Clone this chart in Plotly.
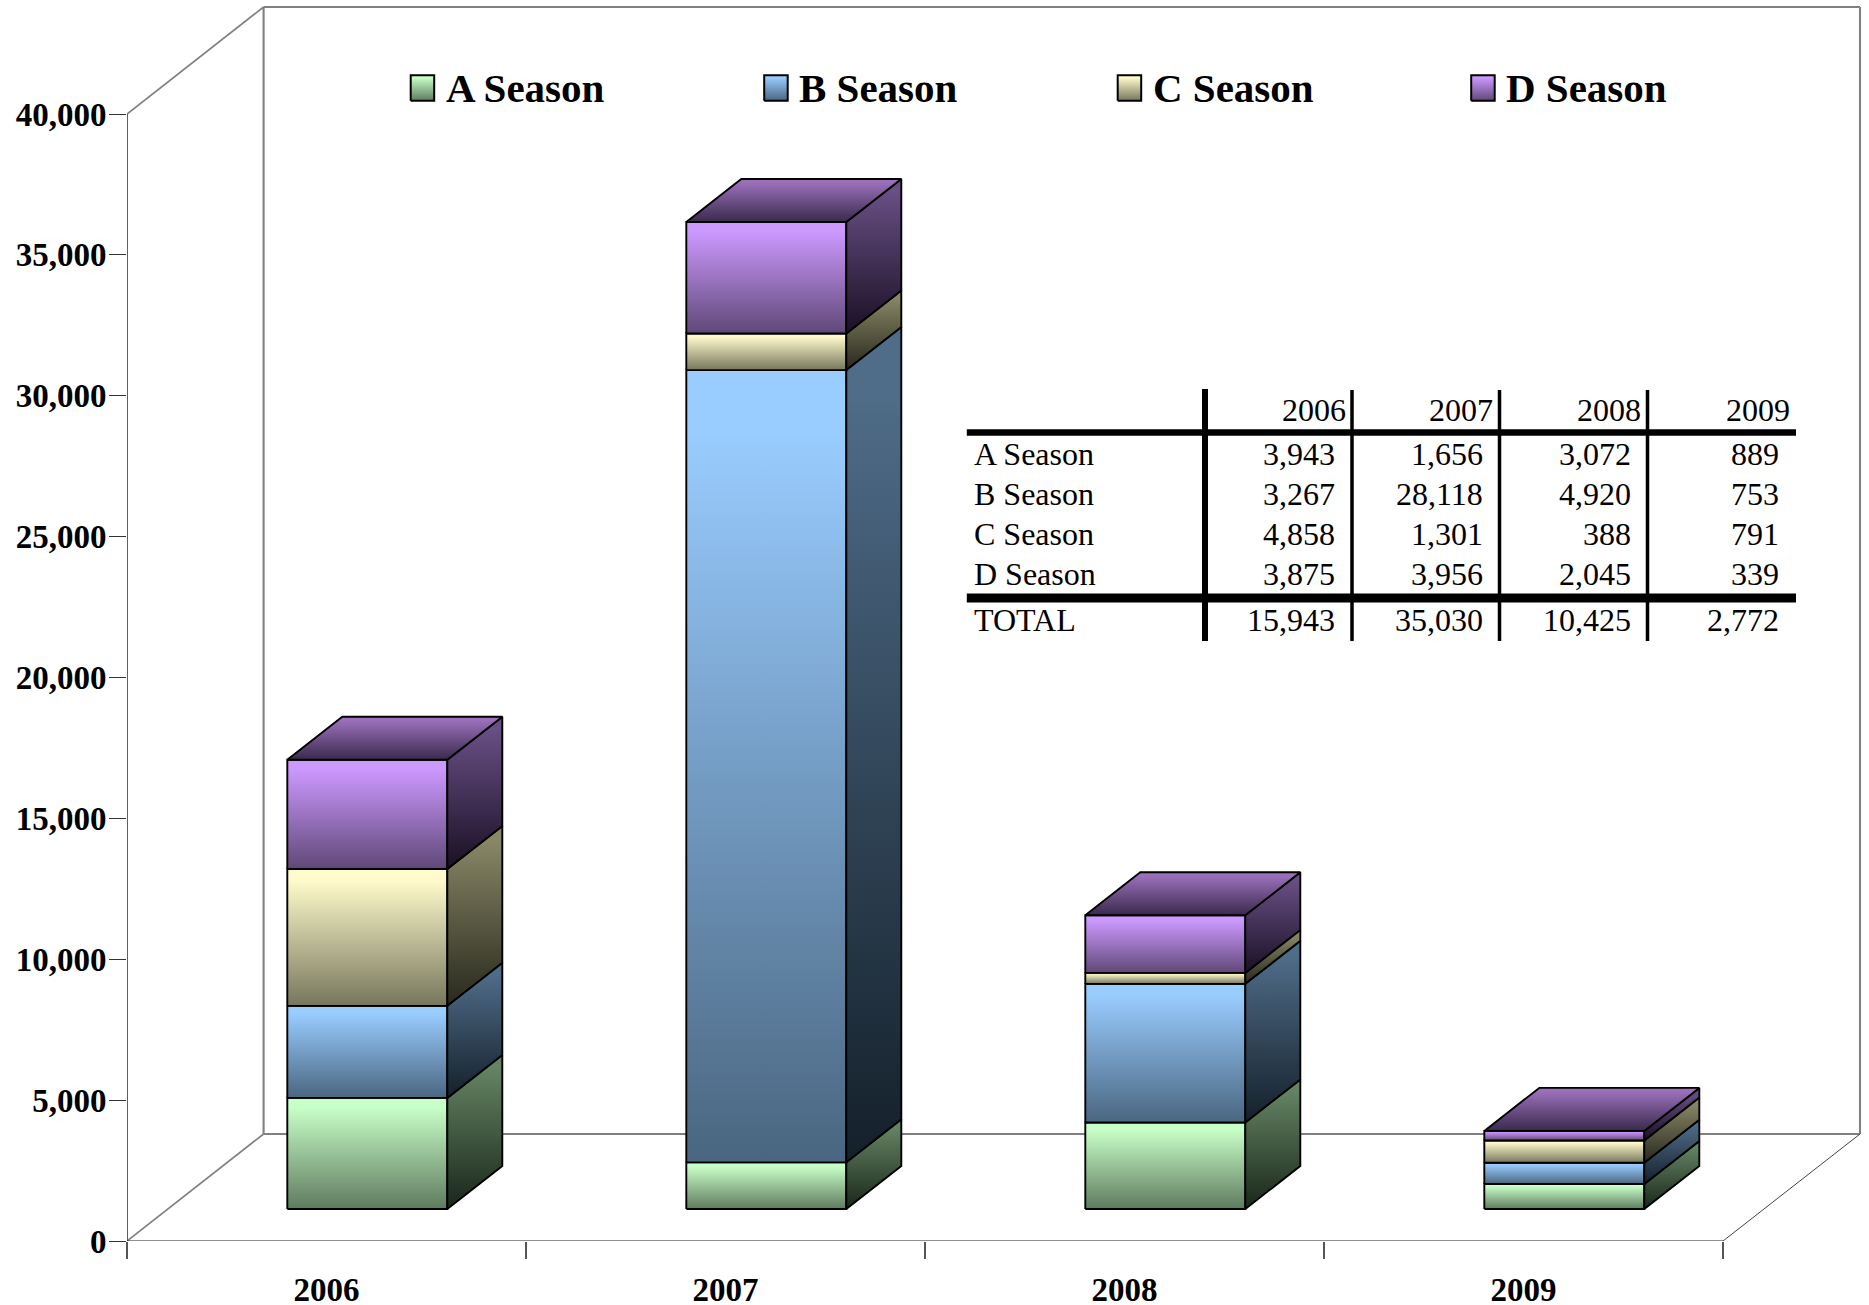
import plotly.graph_objects as go

# ---------- data ----------
years = ["2006", "2007", "2008", "2009"]
a_season = [3943, 1656, 3072, 889]
b_season = [3267, 28118, 4920, 753]
c_season = [4858, 1301, 388, 791]
d_season = [3875, 3956, 2045, 339]
totals = [15943, 35030, 10425, 2772]
series_names = ["A Season", "B Season", "C Season", "D Season"]
y_ticks = [0, 5000, 10000, 15000, 20000, 25000, 30000, 35000, 40000]

# ---------- geometry ----------
W, H = 1869, 1305
L, B = 127, 64
CAT = 399.0
PXU = 1127 / 40000
FONT = "Liberation Serif"


def dx(px):
    return px / CAT


def dy(px):
    return px / PXU


def X(px):
    return (px - L) / CAT


def Y(py):
    return ((H - B) - py) / PXU


def PX(px):
    return (px - L) / (W - L)


def PY(py):
    return ((H - B) - py) / (H - B)


DEPTH_X, DEPTH_Y = dx(55), dy(43)
BASE = dy(32)
BAR_OFF, BAR_W = dx(160.3), dx(160)

styles = {
    "A Season": dict(front=("#C8FFC8", "#5F7A5F"), side=("#648464", "#1A261A")),
    "B Season": dict(front=("#99CCFF", "#4A6680"), side=("#4F6C88", "#14202A")),
    "C Season": dict(front=("#FFFBCC", "#76765C"), side=("#888766", "#28281E")),
    "D Season": dict(front=("#CC99FF", "#604878"), side=("#684F84", "#1A1024")),
}
ROOF = ("#9B70BB", "#3A2A4C")

fig = go.Figure()


def poly(xs, ys, colors, lw=1.9):
    top, bot = colors
    fig.add_trace(go.Scatter(
        x=xs + xs[:1], y=ys + ys[:1], mode="lines", fill="toself",
        fillgradient=dict(type="vertical", colorscale=[[0, bot], [0.92, top], [1, top]]),
        line=dict(color="black", width=lw), hoverinfo="skip", showlegend=False,
        cliponaxis=False))


def line(x0, y0, x1, y1, color, width):
    fig.add_trace(go.Scatter(
        x=[x0, x1], y=[y0, y1], mode="lines", line=dict(color=color, width=width),
        hoverinfo="skip", showlegend=False, cliponaxis=False))


# ---------- walls ----------
wx0, wx1 = X(263.6), X(1860)
wy0, wy1 = Y(1134), Y(7)
GRAY = "#808080"
line(wx0, wy0, wx0, wy1, GRAY, 2.1)
line(wx0, wy1, wx1, wy1, GRAY, 2.1)
line(wx1, wy1, wx1, wy0, GRAY, 2.1)
line(wx0, wy0, wx1, wy0, GRAY, 2.1)
line(0, 40000, wx0, wy1, GRAY, 1.7)
line(0, 0, wx0, wy0, GRAY, 1.7)
line(4, 0, wx1, wy0, "#444444", 1)
line(0, 0, 0, 40000, "#444444", 1.7)
line(0, 0, 4, 0, "#222222", 1)

# ---------- stacked bars ----------
columns = [a_season, b_season, c_season, d_season]
for i in range(len(years)):
    x0 = i + BAR_OFF
    x1 = x0 + BAR_W
    bottom = BASE
    for name, col in zip(series_names, columns):
        top = bottom + col[i]
        st = styles[name]
        poly([x0, x1, x1, x0], [bottom, bottom, top, top], st["front"])
        poly([x1, x1 + DEPTH_X, x1 + DEPTH_X, x1],
             [bottom, bottom + DEPTH_Y, top + DEPTH_Y, top], st["side"])
        bottom = top
    poly([x0, x1, x1 + DEPTH_X, x0 + DEPTH_X],
         [bottom, bottom, bottom + DEPTH_Y, bottom + DEPTH_Y], ROOF)

# ---------- legend ----------
annotations = []
for k, name in enumerate(series_names):
    sx = 410.7 + 353.5 * k
    poly([X(sx), X(sx + 23.5), X(sx + 23.5), X(sx)],
         [Y(100.7), Y(100.7), Y(75.3), Y(75.3)], styles[name]["front"], lw=2)
    annotations.append(dict(
        x=PX(sx + 33), y=PY(88), xref="paper", yref="paper", text=f"<b>{name}</b>",
        xanchor="left", yanchor="middle", showarrow=False,
        font=dict(family=FONT, size=41, color="black")))

# ---------- table ----------
def cell(text, px, py, anchor="right"):
    annotations.append(dict(
        x=PX(px), y=PY(py), xref="paper", yref="paper", text=text, xanchor=anchor,
        yanchor="middle", showarrow=False, font=dict(family=FONT, size=32, color="black")))


head_right = [1347.5, 1495, 1643, 1792]
val_right = [1337, 1485, 1633, 1781]
row_y = [453.5, 494, 534.5, 574]
for j, yr in enumerate(years):
    cell(yr, head_right[j], 409.5)
    for r, col in enumerate(columns):
        cell(f"{col[j]:,}", val_right[j], row_y[r])
    cell(f"{totals[j]:,}", val_right[j], 620)
for r, name in enumerate(series_names):
    cell(name, 971.5, row_y[r], "left")
cell("TOTAL", 971.5, 620, "left")

shapes = []


def rule(x0, y0, x1, y1, w):
    shapes.append(dict(type="line", xref="paper", yref="paper", x0=PX(x0), x1=PX(x1),
                       y0=PY(y0), y1=PY(y1), line=dict(color="black", width=w)))


rule(966.8, 432.5, 1796, 432.5, 6.5)
rule(966.8, 598, 1796, 598, 9)
rule(1205, 389, 1205, 641, 6)
for vx in (1352, 1499.5, 1647.5):
    rule(vx, 390, vx, 641, 3.5)

# ---------- layout ----------
fig.update_layout(
    width=W, height=H,
    margin=dict(l=L, r=0, t=0, b=B, pad=0),
    paper_bgcolor="white", plot_bgcolor="white",
    showlegend=False, annotations=annotations, shapes=shapes,
    xaxis=dict(
        automargin=False,
        range=[0, (W - L) / CAT], showgrid=False, zeroline=False, showline=False,
        tickmode="array", tickvals=[i + 0.5 for i in range(len(years))], ticktext=years,
        ticks="", ticklabelstandoff=26,
        tickfont=dict(family=FONT, size=33, color="black", weight="bold"),
        minor=dict(tickmode="array", tickvals=[0, 1, 2, 3, 4], ticks="outside",
                   ticklen=17, tickwidth=1.5, tickcolor="#555555", showgrid=False),
    ),
    yaxis=dict(
        automargin=False,
        range=[0, (H - B) / PXU], showgrid=False, zeroline=False, showline=False,
        tickmode="array", tickvals=y_ticks, ticktext=[f"{v:,}" for v in y_ticks],
        ticks="outside", ticklen=17, tickwidth=1, tickcolor="#333333", ticklabelstandoff=-4,
        tickfont=dict(family=FONT, size=33, color="black", weight="bold"),
    ),
)

fig.write_html("out.html", post_script="document.body.style.margin='0';",
               config={"displayModeBar": False})
